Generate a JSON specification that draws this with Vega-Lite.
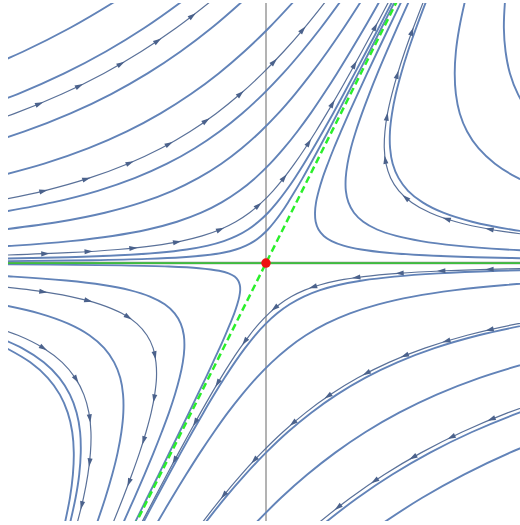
{
"$schema": "https://vega.github.io/schema/vega-lite/v6.json",
"width": 512, "height": 518,
"autosize": {"type": "none"},
"padding": {"left": 8, "top": 3, "right": 0, "bottom": 4},
"background": "white",
"config": {"view": {"stroke": null}},
"datasets": {
"origin": [{"u": 0, "v": 0}],
"eig": [{"u": -1.1, "v": -2.2}, {"u": 1.1, "v": 2.2}],
"plain": [
{"c":1,"u":-2.279,"v":1.47},{"c":1,"u":-1.881,"v":1.64},{"c":1,"u":-1.524,"v":1.82},{"c":1,"u":-1.183,"v":2.02},{"c":1,"u":-1.06,"v":2.1},
{"c":2,"u":-2.334,"v":1.16},{"c":2,"u":-1.925,"v":1.31},{"c":2,"u":-1.564,"v":1.47},{"c":2,"u":-1.241,"v":1.64},{"c":2,"u":-0.947,"v":1.82},{"c":2,"u":-0.663,"v":2.02},{"c":2,"u":-0.56,"v":2.1},
{"c":4,"u":-2.285,"v":0.89},{"c":4,"u":-1.872,"v":1.02},{"c":4,"u":-1.515,"v":1.16},{"c":4,"u":-1.2,"v":1.31},{"c":4,"u":-0.918,"v":1.47},{"c":4,"u":-0.662,"v":1.64},{"c":4,"u":-0.425,"v":1.82},{"c":4,"u":-0.193,"v":2.02},{"c":4,"u":-0.107,"v":2.1},
{"c":5,"u":-2.125,"v":0.66},{"c":5,"u":-1.719,"v":0.77},{"c":5,"u":-1.375,"v":0.89},{"c":5,"u":-1.078,"v":1.02},{"c":5,"u":-0.817,"v":1.16},{"c":5,"u":-0.582,"v":1.31},{"c":5,"u":-0.367,"v":1.47},{"c":5,"u":-0.168,"v":1.64},{"c":5,"u":0.02,"v":1.82},{"c":5,"u":0.208,"v":2.02},{"c":5,"u":0.279,"v":2.1},
{"c":7,"u":-2.079,"v":0.39},{"c":7,"u":-1.652,"v":0.47},{"c":7,"u":-1.304,"v":0.56},{"c":7,"u":-1.014,"v":0.66},{"c":7,"u":-0.767,"v":0.77},{"c":7,"u":-0.552,"v":0.89},{"c":7,"u":-0.36,"v":1.02},{"c":7,"u":-0.185,"v":1.16},{"c":7,"u":-0.022,"v":1.31},{"c":7,"u":0.132,"v":1.47},{"c":7,"u":0.279,"v":1.64},{"c":7,"u":0.423,"v":1.82},{"c":7,"u":0.571,"v":2.02},{"c":7,"u":0.628,"v":2.1},
{"c":8,"u":-2.035,"v":0.26},{"c":8,"u":-1.599,"v":0.32},{"c":8,"u":-1.249,"v":0.39},{"c":8,"u":-0.963,"v":0.47},{"c":8,"u":-0.725,"v":0.56},{"c":8,"u":-0.523,"v":0.66},{"c":8,"u":-0.346,"v":0.77},{"c":8,"u":-0.188,"v":0.89},{"c":8,"u":-0.042,"v":1.02},{"c":8,"u":0.095,"v":1.16},{"c":8,"u":0.225,"v":1.31},{"c":8,"u":0.352,"v":1.47},{"c":8,"u":0.477,"v":1.64},{"c":8,"u":0.601,"v":1.82},{"c":8,"u":0.731,"v":2.02},{"c":8,"u":0.782,"v":2.1},
{"c":9,"u":-2.538,"v":0.105},{"c":9,"u":-1.947,"v":0.135},{"c":9,"u":-1.515,"v":0.17},{"c":9,"u":-1.19,"v":0.21},{"c":9,"u":-0.916,"v":0.26},{"c":9,"u":-0.69,"v":0.32},{"c":9,"u":-0.502,"v":0.39},{"c":9,"u":-0.344,"v":0.47},{"c":9,"u":-0.206,"v":0.56},{"c":9,"u":-0.082,"v":0.66},{"c":9,"u":0.032,"v":0.77},{"c":9,"u":0.139,"v":0.89},{"c":9,"u":0.243,"v":1.02},{"c":9,"u":0.346,"v":1.16},{"c":9,"u":0.447,"v":1.31},{"c":9,"u":0.55,"v":1.47},{"c":9,"u":0.654,"v":1.64},{"c":9,"u":0.761,"v":1.82},{"c":9,"u":0.875,"v":2.02},{"c":9,"u":0.92,"v":2.1},
{"c":11,"u":-2.172,"v":0.032},{"c":11,"u":-1.533,"v":0.045},{"c":11,"u":-1.137,"v":0.06},{"c":11,"u":-0.835,"v":0.08},{"c":11,"u":-0.614,"v":0.105},{"c":11,"u":-0.451,"v":0.135},{"c":11,"u":-0.327,"v":0.17},{"c":11,"u":-0.228,"v":0.21},{"c":11,"u":-0.139,"v":0.26},{"c":11,"u":-0.059,"v":0.32},{"c":11,"u":0.016,"v":0.39},{"c":11,"u":0.086,"v":0.47},{"c":11,"u":0.155,"v":0.56},{"c":11,"u":0.224,"v":0.66},{"c":11,"u":0.294,"v":0.77},{"c":11,"u":0.366,"v":0.89},{"c":11,"u":0.441,"v":1.02},{"c":11,"u":0.52,"v":1.16},{"c":11,"u":0.602,"v":1.31},{"c":11,"u":0.687,"v":1.47},{"c":11,"u":0.777,"v":1.64},{"c":11,"u":0.872,"v":1.82},{"c":11,"u":0.975,"v":2.02},{"c":11,"u":1.017,"v":2.1},
{"c":12,"u":-2.995,"v":0.01},{"c":12,"u":-1.99,"v":0.015},{"c":12,"u":-1.353,"v":0.022},{"c":12,"u":-0.922,"v":0.032},{"c":12,"u":-0.644,"v":0.045},{"c":12,"u":-0.47,"v":0.06},{"c":12,"u":-0.335,"v":0.08},{"c":12,"u":-0.233,"v":0.105},{"c":12,"u":-0.155,"v":0.135},{"c":12,"u":-0.091,"v":0.17},{"c":12,"u":-0.038,"v":0.21},{"c":12,"u":0.015,"v":0.26},{"c":12,"u":0.066,"v":0.32},{"c":12,"u":0.118,"v":0.39},{"c":12,"u":0.171,"v":0.47},{"c":12,"u":0.226,"v":0.56},{"c":12,"u":0.285,"v":0.66},{"c":12,"u":0.346,"v":0.77},{"c":12,"u":0.411,"v":0.89},{"c":12,"u":0.481,"v":1.02},{"c":12,"u":0.554,"v":1.16},{"c":12,"u":0.632,"v":1.31},{"c":12,"u":0.715,"v":1.47},{"c":12,"u":0.802,"v":1.64},{"c":12,"u":0.894,"v":1.82},{"c":12,"u":0.995,"v":2.02},{"c":12,"u":1.036,"v":2.1},
{"c":21,"u":2.266,"v":0.032},{"c":21,"u":1.6225,"v":0.045},{"c":21,"u":1.23,"v":0.06},{"c":21,"u":0.94,"v":0.08},{"c":21,"u":0.738,"v":0.105},{"c":21,"u":0.601,"v":0.135},{"c":21,"u":0.509,"v":0.17},{"c":21,"u":0.448,"v":0.21},{"c":21,"u":0.407,"v":0.26},{"c":21,"u":0.385,"v":0.32},{"c":21,"u":0.38,"v":0.39},{"c":21,"u":0.388,"v":0.47},{"c":21,"u":0.409,"v":0.56},{"c":21,"u":0.439,"v":0.66},{"c":21,"u":0.479,"v":0.77},{"c":21,"u":0.526,"v":0.89},{"c":21,"u":0.581,"v":1.02},{"c":21,"u":0.642,"v":1.16},{"c":21,"u":0.71,"v":1.31},{"c":21,"u":0.784,"v":1.47},{"c":21,"u":0.864,"v":1.64},{"c":21,"u":0.95,"v":1.82},{"c":21,"u":1.046,"v":2.02},{"c":21,"u":1.084,"v":2.1},
{"c":22,"u":2.415,"v":0.08},{"c":22,"u":1.862,"v":0.105},{"c":22,"u":1.475,"v":0.135},{"c":22,"u":1.203,"v":0.17},{"c":22,"u":1.01,"v":0.21},{"c":22,"u":0.861,"v":0.26},{"c":22,"u":0.754,"v":0.32},{"c":22,"u":0.682,"v":0.39},{"c":22,"u":0.639,"v":0.47},{"c":22,"u":0.619,"v":0.56},{"c":22,"u":0.618,"v":0.66},{"c":22,"u":0.632,"v":0.77},{"c":22,"u":0.658,"v":0.89},{"c":22,"u":0.696,"v":1.02},{"c":22,"u":0.744,"v":1.16},{"c":22,"u":0.8,"v":1.31},{"c":22,"u":0.864,"v":1.47},{"c":22,"u":0.936,"v":1.64},{"c":22,"u":1.014,"v":1.82},{"c":22,"u":1.104,"v":2.02},{"c":22,"u":1.14,"v":2.1},
{"c":24,"u":2.295,"v":0.21},{"c":24,"u":1.899,"v":0.26},{"c":24,"u":1.5975,"v":0.32},{"c":24,"u":1.374,"v":0.39},{"c":24,"u":1.214,"v":0.47},{"c":24,"u":1.101,"v":0.56},{"c":24,"u":1.027,"v":0.66},{"c":24,"u":0.982,"v":0.77},{"c":24,"u":0.962,"v":0.89},{"c":24,"u":0.961,"v":1.02},{"c":24,"u":0.977,"v":1.16},{"c":24,"u":1.006,"v":1.31},{"c":24,"u":1.048,"v":1.47},{"c":24,"u":1.1,"v":1.64},{"c":24,"u":1.163,"v":1.82},{"c":24,"u":1.238,"v":2.02},{"c":24,"u":1.269,"v":2.1},
{"c":25,"u":2.191,"v":0.56},{"c":25,"u":1.951,"v":0.66},{"c":25,"u":1.775,"v":0.77},{"c":25,"u":1.647,"v":0.89},{"c":25,"u":1.559,"v":1.02},{"c":25,"u":1.502,"v":1.16},{"c":25,"u":1.472,"v":1.31},{"c":25,"u":1.463,"v":1.47},{"c":25,"u":1.472,"v":1.64},{"c":25,"u":1.498,"v":1.82},{"c":25,"u":1.54,"v":2.02},{"c":25,"u":1.56,"v":2.1},
{"c":26,"u":2.144,"v":1.05},{"c":26,"u":2.046,"v":1.16},{"c":26,"u":1.953,"v":1.31},{"c":26,"u":1.891,"v":1.47},{"c":26,"u":1.857,"v":1.64},{"c":26,"u":1.844,"v":1.82},{"c":26,"u":1.852,"v":2.02},{"c":26,"u":1.86,"v":2.1},
{"c":31,"u":-2.504,"v":-0.008},{"c":31,"u":-1.673,"v":-0.012},{"c":31,"u":-1.12,"v":-0.018},{"c":31,"u":-0.754,"v":-0.027},{"c":31,"u":-0.52,"v":-0.04},{"c":31,"u":-0.363,"v":-0.06},{"c":31,"u":-0.29,"v":-0.08},{"c":31,"u":-0.243,"v":-0.105},{"c":31,"u":-0.216,"v":-0.135},{"c":31,"u":-0.203,"v":-0.17},{"c":31,"u":-0.2,"v":-0.21},{"c":31,"u":-0.207,"v":-0.26},{"c":31,"u":-0.2225,"v":-0.32},{"c":31,"u":-0.246,"v":-0.39},{"c":31,"u":-0.278,"v":-0.47},{"c":31,"u":-0.316,"v":-0.56},{"c":31,"u":-0.36,"v":-0.66},{"c":31,"u":-0.411,"v":-0.77},{"c":31,"u":-0.467,"v":-0.89},{"c":31,"u":-0.53,"v":-1.02},{"c":31,"u":-0.597,"v":-1.16},{"c":31,"u":-0.67,"v":-1.31},{"c":31,"u":-0.749,"v":-1.47},{"c":31,"u":-0.832,"v":-1.64},{"c":31,"u":-0.921,"v":-1.82},{"c":31,"u":-1.02,"v":-2.02},{"c":31,"u":-1.06,"v":-2.1},
{"c":32,"u":-2.54,"v":-0.08},{"c":32,"u":-1.957,"v":-0.105},{"c":32,"u":-1.549,"v":-0.135},{"c":32,"u":-1.261,"v":-0.17},{"c":32,"u":-1.057,"v":-0.21},{"c":32,"u":-0.899,"v":-0.26},{"c":32,"u":-0.785,"v":-0.32},{"c":32,"u":-0.708,"v":-0.39},{"c":32,"u":-0.661,"v":-0.47},{"c":32,"u":-0.637,"v":-0.56},{"c":32,"u":-0.633,"v":-0.66},{"c":32,"u":-0.645,"v":-0.77},{"c":32,"u":-0.67,"v":-0.89},{"c":32,"u":-0.706,"v":-1.02},{"c":32,"u":-0.752,"v":-1.16},{"c":32,"u":-0.808,"v":-1.31},{"c":32,"u":-0.871,"v":-1.47},{"c":32,"u":-0.942,"v":-1.64},{"c":32,"u":-1.02,"v":-1.82},{"c":32,"u":-1.109,"v":-2.02},{"c":32,"u":-1.145,"v":-2.1},
{"c":34,"u":-2.066,"v":-0.32},{"c":34,"u":-1.759,"v":-0.39},{"c":34,"u":-1.533,"v":-0.47},{"c":34,"u":-1.369,"v":-0.56},{"c":34,"u":-1.254,"v":-0.66},{"c":34,"u":-1.177,"v":-0.77},{"c":34,"u":-1.13,"v":-0.89},{"c":34,"u":-1.108,"v":-1.02},{"c":34,"u":-1.106,"v":-1.16},{"c":34,"u":-1.121,"v":-1.31},{"c":34,"u":-1.15,"v":-1.47},{"c":34,"u":-1.192,"v":-1.64},{"c":34,"u":-1.245,"v":-1.82},{"c":34,"u":-1.312,"v":-2.02},{"c":34,"u":-1.34,"v":-2.1},
{"c":36,"u":-2.119,"v":-0.56},{"c":36,"u":-1.891,"v":-0.66},{"c":36,"u":-1.723,"v":-0.77},{"c":36,"u":-1.602,"v":-0.89},{"c":36,"u":-1.52,"v":-1.02},{"c":36,"u":-1.468,"v":-1.16},{"c":36,"u":-1.441,"v":-1.31},{"c":36,"u":-1.436,"v":-1.47},{"c":36,"u":-1.448,"v":-1.64},{"c":36,"u":-1.476,"v":-1.82},{"c":36,"u":-1.52,"v":-2.02},{"c":36,"u":-1.54,"v":-2.1},
{"c":37,"u":-2.012,"v":-0.66},{"c":37,"u":-1.827,"v":-0.77},{"c":37,"u":-1.692,"v":-0.89},{"c":37,"u":-1.598,"v":-1.02},{"c":37,"u":-1.537,"v":-1.16},{"c":37,"u":-1.502,"v":-1.31},{"c":37,"u":-1.49,"v":-1.47},{"c":37,"u":-1.497,"v":-1.64},{"c":37,"u":-1.52,"v":-1.82},{"c":37,"u":-1.56,"v":-2.02},{"c":37,"u":-1.579,"v":-2.1},
{"c":42,"u":2.422,"v":-0.045},{"c":42,"u":1.803,"v":-0.06},{"c":42,"u":1.335,"v":-0.08},{"c":42,"u":0.995,"v":-0.105},{"c":42,"u":0.747,"v":-0.135},{"c":42,"u":0.562,"v":-0.17},{"c":42,"u":0.419,"v":-0.21},{"c":42,"u":0.293,"v":-0.26},{"c":42,"u":0.184,"v":-0.32},{"c":42,"u":0.087,"v":-0.39},{"c":42,"u":-0.001,"v":-0.47},{"c":42,"u":-0.084,"v":-0.56},{"c":42,"u":-0.163,"v":-0.66},{"c":42,"u":-0.242,"v":-0.77},{"c":42,"u":-0.321,"v":-0.89},{"c":42,"u":-0.402,"v":-1.02},{"c":42,"u":-0.485,"v":-1.16},{"c":42,"u":-0.571,"v":-1.31},{"c":42,"u":-0.66,"v":-1.47},{"c":42,"u":-0.753,"v":-1.64},{"c":42,"u":-0.85,"v":-1.82},{"c":42,"u":-0.956,"v":-2.02},{"c":42,"u":-0.998,"v":-2.1},
{"c":43,"u":2.377,"v":-0.135},{"c":43,"u":1.856,"v":-0.17},{"c":43,"u":1.466,"v":-0.21},{"c":43,"u":1.139,"v":-0.26},{"c":43,"u":0.871,"v":-0.32},{"c":43,"u":0.651,"v":-0.39},{"c":43,"u":0.467,"v":-0.47},{"c":43,"u":0.309,"v":-0.56},{"c":43,"u":0.17,"v":-0.66},{"c":43,"u":0.044,"v":-0.77},{"c":43,"u":-0.074,"v":-0.89},{"c":43,"u":-0.186,"v":-1.02},{"c":43,"u":-0.296,"v":-1.16},{"c":43,"u":-0.403,"v":-1.31},{"c":43,"u":-0.511,"v":-1.47},{"c":43,"u":-0.619,"v":-1.64},{"c":43,"u":-0.729,"v":-1.82},{"c":43,"u":-0.847,"v":-2.02},{"c":43,"u":-0.893,"v":-2.1},
{"c":45,"u":2.063,"v":-0.47},{"c":45,"u":1.649,"v":-0.56},{"c":45,"u":1.306,"v":-0.66},{"c":45,"u":1.018,"v":-0.77},{"c":45,"u":0.768,"v":-0.89},{"c":45,"u":0.549,"v":-1.02},{"c":45,"u":0.351,"v":-1.16},{"c":45,"u":0.169,"v":-1.31},{"c":45,"u":0.0,"v":-1.47},{"c":45,"u":-0.161,"v":-1.64},{"c":45,"u":-0.317,"v":-1.82},{"c":45,"u":-0.475,"v":-2.02},{"c":45,"u":-0.536,"v":-2.1},
{"c":46,"u":2.044,"v":-0.77},{"c":46,"u":1.656,"v":-0.89},{"c":46,"u":1.323,"v":-1.02},{"c":46,"u":1.032,"v":-1.16},{"c":46,"u":0.772,"v":-1.31},{"c":46,"u":0.537,"v":-1.47},{"c":46,"u":0.32,"v":-1.64},{"c":46,"u":0.117,"v":-1.82},{"c":46,"u":-0.084,"v":-2.02},{"c":46,"u":-0.16,"v":-2.1},
{"c":48,"u":2.382,"v":-1.02},{"c":48,"u":1.963,"v":-1.16},{"c":48,"u":1.597,"v":-1.31},{"c":48,"u":1.272,"v":-1.47},{"c":48,"u":0.979,"v":-1.64},{"c":48,"u":0.711,"v":-1.82},{"c":48,"u":0.45,"v":-2.02},{"c":48,"u":0.355,"v":-2.1},
{"c":49,"u":2.292,"v":-1.31},{"c":49,"u":1.891,"v":-1.47},{"c":49,"u":1.534,"v":-1.64},{"c":49,"u":1.211,"v":-1.82},{"c":49,"u":0.901,"v":-2.02},{"c":49,"u":0.788,"v":-2.1}
],
"arrow": [
{"c":3,"u":-2.363,"v":1.02},{"c":3,"u":-1.946,"v":1.16},{"c":3,"u":-1.582,"v":1.31},{"c":3,"u":-1.258,"v":1.47},{"c":3,"u":-0.967,"v":1.64},{"c":3,"u":-0.7,"v":1.82},{"c":3,"u":-0.44,"v":2.02},{"c":3,"u":-0.345,"v":2.1},
{"c":6,"u":-2.148,"v":0.47},{"c":6,"u":-1.72,"v":0.56},{"c":6,"u":-1.367,"v":0.66},{"c":6,"u":-1.07,"v":0.77},{"c":6,"u":-0.813,"v":0.89},{"c":6,"u":-0.588,"v":1.02},{"c":6,"u":-0.386,"v":1.16},{"c":6,"u":-0.2,"v":1.31},{"c":6,"u":-0.027,"v":1.47},{"c":6,"u":0.137,"v":1.64},{"c":6,"u":0.295,"v":1.82},{"c":6,"u":0.456,"v":2.02},{"c":6,"u":0.517,"v":2.1},
{"c":10,"u":-2.07,"v":0.06},{"c":10,"u":-1.535,"v":0.08},{"c":10,"u":-1.148,"v":0.105},{"c":10,"u":-0.866,"v":0.135},{"c":10,"u":-0.656,"v":0.17},{"c":10,"u":-0.495,"v":0.21},{"c":10,"u":-0.355,"v":0.26},{"c":10,"u":-0.234,"v":0.32},{"c":10,"u":-0.128,"v":0.39},{"c":10,"u":-0.033,"v":0.47},{"c":10,"u":0.055,"v":0.56},{"c":10,"u":0.139,"v":0.66},{"c":10,"u":0.221,"v":0.77},{"c":10,"u":0.303,"v":0.89},{"c":10,"u":0.386,"v":1.02},{"c":10,"u":0.471,"v":1.16},{"c":10,"u":0.559,"v":1.31},{"c":10,"u":0.649,"v":1.47},{"c":10,"u":0.743,"v":1.64},{"c":10,"u":0.841,"v":1.82},{"c":10,"u":0.948,"v":2.02},{"c":10,"u":0.99,"v":2.1},
{"c":23,"u":2.105,"v":0.21},{"c":23,"u":1.745,"v":0.26},{"c":23,"u":1.4725,"v":0.32},{"c":23,"u":1.272,"v":0.39},{"c":23,"u":1.129,"v":0.47},{"c":23,"u":1.03,"v":0.56},{"c":23,"u":0.966,"v":0.66},{"c":23,"u":0.93,"v":0.77},{"c":23,"u":0.917,"v":0.89},{"c":23,"u":0.922,"v":1.02},{"c":23,"u":0.942,"v":1.16},{"c":23,"u":0.976,"v":1.31},{"c":23,"u":1.021,"v":1.47},{"c":23,"u":1.076,"v":1.64},{"c":23,"u":1.141,"v":1.82},{"c":23,"u":1.218,"v":2.02},{"c":23,"u":1.25,"v":2.1},
{"c":33,"u":-2.203,"v":-0.17},{"c":33,"u":-1.819,"v":-0.21},{"c":33,"u":-1.515,"v":-0.26},{"c":33,"u":-1.285,"v":-0.32},{"c":33,"u":-1.118,"v":-0.39},{"c":33,"u":-1.001,"v":-0.47},{"c":33,"u":-0.923,"v":-0.56},{"c":33,"u":-0.875,"v":-0.66},{"c":33,"u":-0.853,"v":-0.77},{"c":33,"u":-0.849,"v":-0.89},{"c":33,"u":-0.863,"v":-1.02},{"c":33,"u":-0.89,"v":-1.16},{"c":33,"u":-0.93,"v":-1.31},{"c":33,"u":-0.98,"v":-1.47},{"c":33,"u":-1.04,"v":-1.64},{"c":33,"u":-1.108,"v":-1.82},{"c":33,"u":-1.188,"v":-2.02},{"c":33,"u":-1.221,"v":-2.1},
{"c":35,"u":-2.192,"v":-0.47},{"c":35,"u":-1.923,"v":-0.56},{"c":35,"u":-1.724,"v":-0.66},{"c":35,"u":-1.58,"v":-0.77},{"c":35,"u":-1.479,"v":-0.89},{"c":35,"u":-1.412,"v":-1.02},{"c":35,"u":-1.373,"v":-1.16},{"c":35,"u":-1.357,"v":-1.31},{"c":35,"u":-1.361,"v":-1.47},{"c":35,"u":-1.381,"v":-1.64},{"c":35,"u":-1.415,"v":-1.82},{"c":35,"u":-1.465,"v":-2.02},{"c":35,"u":-1.488,"v":-2.1},
{"c":41,"u":2.64,"v":-0.032},{"c":41,"u":1.866,"v":-0.045},{"c":41,"u":1.387,"v":-0.06},{"c":41,"u":1.0225,"v":-0.08},{"c":41,"u":0.757,"v":-0.105},{"c":41,"u":0.562,"v":-0.135},{"c":41,"u":0.415,"v":-0.17},{"c":41,"u":0.3,"v":-0.21},{"c":41,"u":0.197,"v":-0.26},{"c":41,"u":0.106,"v":-0.32},{"c":41,"u":0.023,"v":-0.39},{"c":41,"u":-0.054,"v":-0.47},{"c":41,"u":-0.128,"v":-0.56},{"c":41,"u":-0.201,"v":-0.66},{"c":41,"u":-0.275,"v":-0.77},{"c":41,"u":-0.35,"v":-0.89},{"c":41,"u":-0.427,"v":-1.02},{"c":41,"u":-0.507,"v":-1.16},{"c":41,"u":-0.59,"v":-1.31},{"c":41,"u":-0.677,"v":-1.47},{"c":41,"u":-0.768,"v":-1.64},{"c":41,"u":-0.863,"v":-1.82},{"c":41,"u":-0.968,"v":-2.02},{"c":41,"u":-1.01,"v":-2.1},
{"c":44,"u":2.446,"v":-0.39},{"c":44,"u":1.956,"v":-0.47},{"c":44,"u":1.559,"v":-0.56},{"c":44,"u":1.231,"v":-0.66},{"c":44,"u":0.953,"v":-0.77},{"c":44,"u":0.712,"v":-0.89},{"c":44,"u":0.5,"v":-1.02},{"c":44,"u":0.308,"v":-1.16},{"c":44,"u":0.131,"v":-1.31},{"c":44,"u":-0.034,"v":-1.47},{"c":44,"u":-0.192,"v":-1.64},{"c":44,"u":-0.344,"v":-1.82},{"c":44,"u":-0.5,"v":-2.02},{"c":44,"u":-0.56,"v":-2.1},
{"c":47,"u":2.284,"v":-1.02},{"c":47,"u":1.877,"v":-1.16},{"c":47,"u":1.521,"v":-1.31},{"c":47,"u":1.204,"v":-1.47},{"c":47,"u":0.918,"v":-1.64},{"c":47,"u":0.656,"v":-1.82},{"c":47,"u":0.401,"v":-2.02},{"c":47,"u":0.307,"v":-2.1}
],
"heads": [
{"u":-1.76,"v":1.233,"dir":67.6},{"u":-1.45,"v":1.372,"dir":64.1},{"u":-1.127,"v":1.543,"dir":60.0},{"u":-0.842,"v":1.721,"dir":56.1},{"u":-0.573,"v":1.915,"dir":52.4},
{"u":-1.728,"v":0.558,"dir":76.3},{"u":-1.395,"v":0.651,"dir":72.4},{"u":-1.058,"v":0.775,"dir":67.1},{"u":-0.754,"v":0.922,"dir":61.2},{"u":-0.467,"v":1.101,"dir":54.9},{"u":-0.2,"v":1.31,"dir":49.1},{"u":0.06,"v":1.558,"dir":43.9},{"u":0.283,"v":1.806,"dir":40.1},
{"u":-1.714,"v":0.072,"dir":87.7},{"u":-1.378,"v":0.0886,"dir":86.5},{"u":-1.031,"v":0.1157,"dir":84.2},{"u":-0.692,"v":0.163,"dir":79.2},{"u":-0.357,"v":0.259,"dir":67.2},{"u":-0.062,"v":0.444,"dir":48.7},{"u":0.138,"v":0.659,"dir":38.3},{"u":0.33,"v":0.93,"dir":32.8},{"u":0.514,"v":1.233,"dir":30.3},{"u":0.685,"v":1.535,"dir":29.0},{"u":0.846,"v":1.829,"dir":28.3},
{"u":1.13,"v":1.791,"dir":20.3},{"u":1.017,"v":1.457,"dir":16.8},{"u":0.937,"v":1.132,"dir":9.8},{"u":0.925,"v":0.798,"dir":351.0},{"u":1.085,"v":0.504,"dir":310.9},{"u":1.403,"v":0.3407,"dir":287.8},{"u":1.736,"v":0.2617,"dir":280.1},
{"u":-1.729,"v":-0.2225,"dir":98.4},{"u":-1.38,"v":-0.2917,"dir":105.0},{"u":-1.07,"v":-0.418,"dir":122.7},{"u":-0.862,"v":-0.713,"dir":168.2},{"u":-0.867,"v":-1.047,"dir":189.8},{"u":-0.948,"v":-1.372,"dir":197.2},{"u":-1.061,"v":-1.698,"dir":200.6},
{"u":-1.728,"v":-0.657,"dir":121.5},{"u":-1.473,"v":-0.899,"dir":147.4},{"u":-1.366,"v":-1.202,"dir":172.2},{"u":-1.367,"v":-1.543,"dir":186.5},{"u":-1.428,"v":-1.876,"dir":193.4},
{"u":1.736,"v":-0.0483,"dir":268.5},{"u":1.362,"v":-0.061,"dir":267.5},{"u":1.039,"v":-0.0788,"dir":266.0},{"u":0.703,"v":-0.112,"dir":262.2},{"u":0.367,"v":-0.185,"dir":251.5},{"u":0.0698,"v":-0.348,"dir":230.2},{"u":-0.163,"v":-0.606,"dir":216.2},{"u":-0.374,"v":-0.93,"dir":210.9},{"u":-0.547,"v":-1.2326,"dir":209.1},{"u":-0.708,"v":-1.527,"dir":208.2},
{"u":1.736,"v":-0.5165,"dir":257.1},{"u":1.401,"v":-0.6047,"dir":253.2},{"u":1.078,"v":-0.717,"dir":248.2},{"u":0.781,"v":-0.853,"dir":242.4},{"u":0.483,"v":-1.031,"dir":235.7},{"u":0.2116,"v":-1.239,"dir":229.5},{"u":-0.089,"v":-1.527,"dir":223.3},{"u":-0.326,"v":-1.798,"dir":219.3},
{"u":1.75,"v":-1.21,"dir":247.8},{"u":1.4395,"v":-1.3485,"dir":244.2},{"u":1.142,"v":-1.5046,"dir":240.4},{"u":0.845,"v":-1.6876,"dir":236.3},{"u":0.5605,"v":-1.892,"dir":232.35}
]
},
"layer": [
{"data": {"name": "origin"}, "mark": {"type": "rule", "color": "#8a8a8a", "strokeWidth": 1.3},
 "encoding": {"x": {"field": "u", "type": "quantitative", "scale": {"domain": [-2, 1.969], "nice": false, "zero": false}, "axis": null}}},
{"data": {"name": "origin"}, "mark": {"type": "rule", "color": "#8a8a8a", "strokeWidth": 2.6},
 "encoding": {"y": {"field": "v", "type": "quantitative", "scale": {"domain": [-2.0, 2.016], "nice": false, "zero": false}, "axis": null}}},
{"data": {"name": "plain"}, "mark": {"type": "line", "color": "#6283b8", "strokeWidth": 1.9, "interpolate": "catmull-rom", "clip": true},
 "encoding": {
  "x": {"field": "u", "type": "quantitative", "scale": {"domain": [-2, 1.969], "nice": false, "zero": false}, "axis": null},
  "y": {"field": "v", "type": "quantitative", "scale": {"domain": [-2.0, 2.016], "nice": false, "zero": false}, "axis": null},
  "detail": {"field": "c", "type": "nominal"},
  "order": {"field": "v", "type": "quantitative"}}},
{"data": {"name": "arrow"}, "mark": {"type": "line", "color": "#5a7199", "strokeWidth": 1.2, "interpolate": "catmull-rom", "clip": true},
 "encoding": {
  "x": {"field": "u", "type": "quantitative", "scale": {"domain": [-2, 1.969], "nice": false, "zero": false}, "axis": null},
  "y": {"field": "v", "type": "quantitative", "scale": {"domain": [-2.0, 2.016], "nice": false, "zero": false}, "axis": null},
  "detail": {"field": "c", "type": "nominal"},
  "order": {"field": "v", "type": "quantitative"}}},
{"data": {"name": "heads"}, "mark": {"type": "point", "shape": "M0,-1L0.55,0.8L-0.55,0.8Z", "filled": true, "color": "#4b628c", "size": 85, "opacity": 1, "clip": true},
 "encoding": {
  "x": {"field": "u", "type": "quantitative", "scale": {"domain": [-2, 1.969], "nice": false, "zero": false}, "axis": null},
  "y": {"field": "v", "type": "quantitative", "scale": {"domain": [-2.0, 2.016], "nice": false, "zero": false}, "axis": null},
  "angle": {"field": "dir", "type": "quantitative", "scale": null}}},
{"data": {"name": "origin"}, "mark": {"type": "rule", "color": "#3cbf3c", "strokeWidth": 1.8},
 "encoding": {"y": {"field": "v", "type": "quantitative", "scale": {"domain": [-2.0, 2.016], "nice": false, "zero": false}, "axis": null}}},
{"data": {"name": "eig"}, "mark": {"type": "line", "color": "#2bef2b", "strokeWidth": 2.5, "strokeDash": [7, 4], "clip": true},
 "encoding": {
  "x": {"field": "u", "type": "quantitative", "scale": {"domain": [-2, 1.969], "nice": false, "zero": false}, "axis": null},
  "y": {"field": "v", "type": "quantitative", "scale": {"domain": [-2.0, 2.016], "nice": false, "zero": false}, "axis": null}}},
{"data": {"name": "origin"}, "mark": {"type": "point", "shape": "circle", "filled": true, "color": "#ee1111", "size": 90, "opacity": 1},
 "encoding": {
  "x": {"field": "u", "type": "quantitative", "scale": {"domain": [-2, 1.969], "nice": false, "zero": false}, "axis": null},
  "y": {"field": "v", "type": "quantitative", "scale": {"domain": [-2.0, 2.016], "nice": false, "zero": false}, "axis": null}}}
]
}
